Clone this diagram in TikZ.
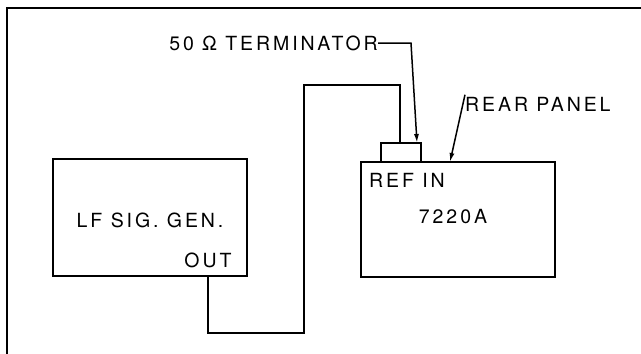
\documentclass[tikz,border=0pt]{standalone}
\usepackage{fontspec}
\setmainfont{TeX Gyre Heros}[LetterSpace=15]
\usetikzlibrary{arrows.meta}
\begin{document}
\begin{tikzpicture}[x=1pt,y=-1pt,line join=miter]
\tikzset{
  box/.style={draw,line width=1.8pt,inner sep=0pt,outer sep=0pt},
  cable/.style={draw,line width=2.8pt},
  lbl/.style={font=\fontsize{19.5}{22}\selectfont,inner sep=0pt},
  ptr/.style={line width=1.5pt,-{Latex[length=9pt,width=5pt]}}
}
\useasboundingbox (0,0) rectangle (641,354);
\fill[white] (0,0) rectangle (641,354);
\draw[line width=1.8pt] (7,354) -- (7,8) -- (641,8);
\node[box,minimum width=194pt,minimum height=117pt] (gen) at (150,217.5) {};
\node[box,minimum width=194pt,minimum height=115pt] (inst) at (458,219.5) {};
\node[box,minimum width=40pt,minimum height=19pt] (term) at (401,152.5) {};
\draw[cable] ([xshift=155pt]gen.south west) -- ++(0,57) -| (304,85) -| ([xshift=19pt]term.north west);
\node[lbl] (lf) at (150,220) {LF SIG. GEN.};
\node[lbl] (out) at (208,260) {OUT};
\node[lbl,anchor=west] (ref) at (369,180) {REF IN};
\node[lbl] (model) at (453,217) {7220A};
\node[lbl,anchor=east] (termlbl) at (378,43) {50 Ω TERMINATOR};
\node[lbl,anchor=west] (rear) at (465,104) {REAR PANEL};
\coordinate (tk) at (411,43);
\draw[ptr] (termlbl.east) -- (tk) -- ([xshift=-4pt]term.north east);
\draw[ptr] ([yshift=2pt]rear.north west) -- ([xshift=89pt]inst.north west);
\end{tikzpicture}
\end{document}
